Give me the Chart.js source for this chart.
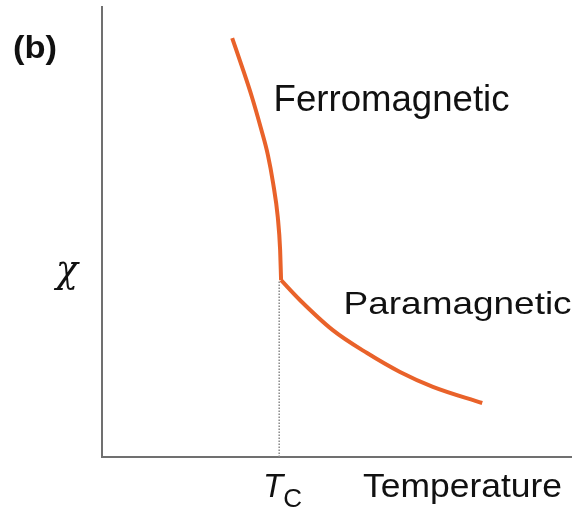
<!DOCTYPE html>
<html>
<head>
<meta charset="utf-8">
<script src="https://cdn.jsdelivr.net/npm/chart.js@4.4.1/dist/chart.umd.min.js"></script>
<style>
  html, body { margin: 0; padding: 0; background: #fff; }
  #chart { display: block; }
</style>
</head>
<body>
<canvas id="chart" width="572" height="512"></canvas>
<script>
//============================== Data ==============================

// ferromagnetic branch (below Tc), arbitrary units
const ferroTemp = [2.77, 2.98, 3.19, 3.38, 3.53, 3.64, 3.74, 3.79, 3.81];
const ferroChi  = [9.31, 8.67, 8.00, 7.31, 6.71, 6.09, 5.33, 4.60, 3.93];

// paramagnetic branch (above Tc)
const paraTemp = [3.81, 4.21, 4.91, 5.64, 6.34, 7.04, 8.09];
const paraChi  = [3.93, 3.49, 2.82, 2.31, 1.89, 1.56, 1.20];

// Curie temperature marker
const curieTemp = 3.77;
const curieChi  = [0, 3.93];

const lineColor = 'rgb(233, 98, 42)';
const axisColor = '#707070';

function toPoints(xs, ys) {
    return xs.map((x, i) => ({ x: x, y: ys[i] }));
}

//============================== Labels ==============================

const labelPlugin = {
    id: 'labels',
    afterDraw(chart) {
        const ctx = chart.ctx;
        const xs = chart.scales.x;
        const ys = chart.scales.y;
        const area = chart.chartArea;

        // draw text squeezed/stretched to a target width
        function fitText(text, font, x, y, width) {
            ctx.save();
            ctx.font = font;
            ctx.fillStyle = '#111';
            ctx.textBaseline = 'alphabetic';
            ctx.textAlign = 'left';
            const w = ctx.measureText(text).width;
            ctx.translate(x, y);
            ctx.scale(width / w, 1);
            ctx.fillText(text, 0, 0);
            ctx.restore();
        }

        fitText('(b)', 'bold 32px "Liberation Sans", Arial, sans-serif', 13, 58, 44);
        fitText('Ferromagnetic', '36px "Liberation Sans", Arial, sans-serif',
            xs.getPixelForValue(3.65), ys.getPixelForValue(7.7), 236);
        fitText('Paramagnetic', '32px "Liberation Sans", Arial, sans-serif',
            xs.getPixelForValue(5.14), ys.getPixelForValue(3.17), 228);

        // chi on the y axis, level with the transition
        fitText('\u03C7', 'italic 40px "DejaVu Serif", serif', 56, ys.getPixelForValue(3.93) + 2, 22);

        // T_C under the Curie temperature
        const tcX = xs.getPixelForValue(curieTemp);
        ctx.save();
        ctx.fillStyle = '#111';
        ctx.font = 'italic 33px "Liberation Sans", Arial, sans-serif';
        ctx.textAlign = 'right';
        ctx.fillText('T', tcX + 4, area.bottom + 40);
        ctx.font = '26px "Liberation Sans", Arial, sans-serif';
        ctx.textAlign = 'left';
        ctx.fillText('C', tcX + 4, area.bottom + 50);
        ctx.restore();

        fitText('Temperature', '34px "Liberation Sans", Arial, sans-serif',
            363, area.bottom + 40, 199);
    }
};

//============================== Chart ==============================

const ctx = document.getElementById('chart');

new Chart(ctx, {
    type: 'scatter',
    data: {
        datasets: [
            {
                label: 'Ferromagnetic',
                data: toPoints(ferroTemp, ferroChi),
                showLine: true,
                borderColor: lineColor,
                borderWidth: 4,
                cubicInterpolationMode: 'monotone',
                pointRadius: 0
            },
            {
                label: 'Paramagnetic',
                data: toPoints(paraTemp, paraChi),
                showLine: true,
                borderColor: lineColor,
                borderWidth: 4,
                cubicInterpolationMode: 'monotone',
                pointRadius: 0
            },
            {
                label: 'Tc',
                data: toPoints([curieTemp, curieTemp], curieChi),
                showLine: true,
                borderColor: '#888',
                borderWidth: 1.5,
                borderDash: [1.5, 1.5],
                pointRadius: 0,
                order: 5
            }
        ]
    },
    options: {
        responsive: false,
        animation: false,
        layout: {
            padding: { left: 102, right: 0, top: 7, bottom: 55 }
        },
        plugins: {
            legend: { display: false },
            tooltip: { enabled: false }
        },
        scales: {
            x: {
                type: 'linear',
                min: 0,
                max: 10,
                grid: { display: false, drawTicks: false },
                ticks: { display: false },
                border: { display: true, color: axisColor, width: 2 }
            },
            y: {
                type: 'linear',
                min: 0,
                max: 10,
                grid: { display: false, drawTicks: false },
                ticks: { display: false },
                border: { display: true, color: axisColor, width: 2 }
            }
        }
    },
    plugins: [labelPlugin]
});
</script>
</body>
</html>
